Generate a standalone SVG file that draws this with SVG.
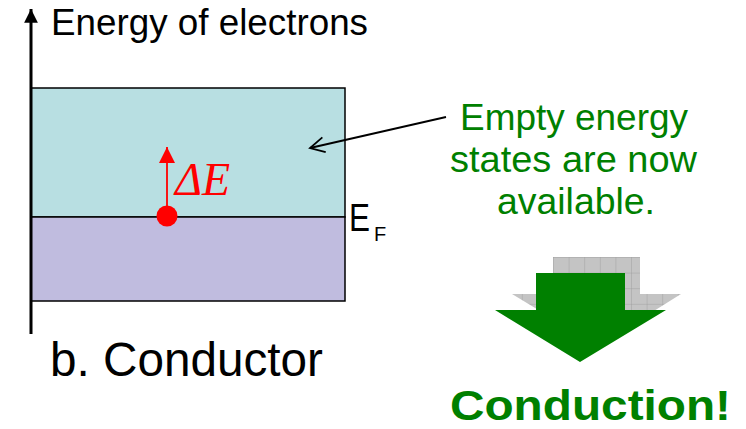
<svg xmlns="http://www.w3.org/2000/svg" width="746" height="429" viewBox="0 0 746 429">
<defs>
<style>
.lbl{font-family:"Liberation Sans",Arial,sans-serif;fill:#000}
.grn{font-family:"Liberation Sans",Arial,sans-serif;fill:#008000;text-anchor:middle}
</style>
<marker id="axisHead" viewBox="0 0 10 10" refX="10" refY="5" markerWidth="4.6" markerHeight="4.6" orient="auto" markerUnits="strokeWidth">
<path d="M0,0 L10,5 L0,10 z" fill="#000"/>
</marker>
<marker id="redHead" viewBox="0 0 10 10" refX="10" refY="5" markerWidth="9" markerHeight="9" orient="auto" markerUnits="strokeWidth">
<path d="M0,0 L10,5 L0,10 z" fill="#ff0000"/>
</marker>
<marker id="openHead" viewBox="0 0 10 10" refX="9" refY="5" markerWidth="10" markerHeight="10" orient="auto" markerUnits="strokeWidth">
<path d="M1,0.8 L9,5 L1,9.2" fill="none" stroke="#000" stroke-width="1"/>
</marker>
<pattern id="grid" width="15.6" height="15.6" patternUnits="userSpaceOnUse" x="553" y="257">
<rect width="15.6" height="15.6" fill="#c4c4c4"/>
<path d="M0,0 H15.6 M0,0 V15.6" stroke="#9a9a9a" stroke-width="0.8" fill="none"/>
</pattern>
</defs>

<g id="bands">
<rect id="upper-band" x="31" y="88" width="314" height="129" fill="#b8dfe2" stroke="#000" stroke-width="1.5"/>
<rect id="lower-band" x="31" y="217" width="314" height="84" fill="#c0bcdf" stroke="#000" stroke-width="1.5"/>
</g>

<g id="connectors">
<line x1="31" y1="334" x2="31" y2="9" stroke="#000" stroke-width="3" marker-end="url(#axisHead)"/>
<line x1="167" y1="210" x2="167" y2="147" stroke="#ff0000" stroke-width="1.8" marker-end="url(#redHead)"/>
<line x1="446" y1="117" x2="310" y2="148" stroke="#000" stroke-width="1.8" marker-end="url(#openHead)"/>
</g>

<g id="electron">
<circle cx="167" cy="216" r="10.5" fill="#ff0000"/>
</g>

<g id="labels">
<text class="lbl" x="51" y="35" font-size="36" textLength="317" lengthAdjust="spacingAndGlyphs">Energy of electrons</text>
<text x="175" y="195" font-size="46" font-family="'Liberation Serif','Times New Roman',serif" font-style="italic" fill="#ff0000">ΔE</text>
<text class="lbl" x="349" y="231" font-size="38" textLength="21" lengthAdjust="spacingAndGlyphs">E</text>
<text class="lbl" x="374" y="241" font-size="20">F</text>
<text class="lbl" x="50" y="376" font-size="48" textLength="273" lengthAdjust="spacingAndGlyphs">b. Conductor</text>
</g>

<g id="note">
<text class="grn" x="574" y="130" font-size="36" textLength="228" lengthAdjust="spacingAndGlyphs">Empty energy</text>
<text class="grn" x="573.5" y="172" font-size="36" textLength="247" lengthAdjust="spacingAndGlyphs">states are now</text>
<text class="grn" x="576" y="214" font-size="36" textLength="158" lengthAdjust="spacingAndGlyphs">available.</text>
</g>

<g id="big-arrow">
<path id="shadow-arrow" d="M553,257 H640 V294 H681 L598,346 L512,294 H553 Z" fill="url(#grid)"/>
<path id="green-arrow" d="M536,273 H625 V310 H666 L580,362 L495,310 H536 Z" fill="#008000"/>
</g>

<g id="result">
<text x="590.5" y="420" font-size="43" font-weight="bold" font-family="'Liberation Sans',Arial,sans-serif" fill="#008000" text-anchor="middle" textLength="281" lengthAdjust="spacingAndGlyphs">Conduction!</text>
</g>
</svg>
